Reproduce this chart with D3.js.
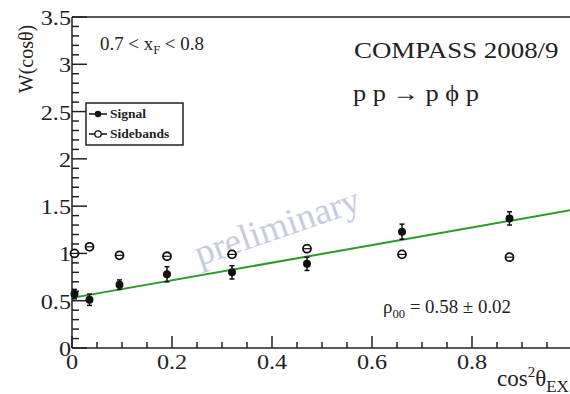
<!DOCTYPE html>
<html><head><meta charset="utf-8">
<script src="https://cdn.jsdelivr.net/npm/d3@7"></script>
<style>body{margin:0;background:#fff}svg{display:block}text{font-family:"Liberation Serif","DejaVu Serif",serif;fill:#222}</style>
</head><body><svg id="c" width="570" height="394"></svg>
<script>
const xVals = [0.005, 0.035, 0.095, 0.19, 0.32, 0.47, 0.66, 0.875];
const signalY = [0.57, 0.51, 0.67, 0.78, 0.80, 0.89, 1.23, 1.37];
const signalErr = [0.05, 0.06, 0.05, 0.08, 0.07, 0.07, 0.08, 0.07];
const sideY = [1.00, 1.07, 0.98, 0.97, 0.99, 1.05, 0.99, 0.96];
const sideErr = [0.03, 0.03, 0.03, 0.03, 0.03, 0.03, 0.03, 0.03];
const fitLine = [[0, 0.53], [1.0, 1.46]];
const yTicks = [0, 0.5, 1, 1.5, 2, 2.5, 3, 3.5];
const yTickLabels = ["0", "0.5", "1", "1.5", "2", "2.5", "3", "3.5"];
const xTicks = [0, 0.2, 0.4, 0.6, 0.8];
const xTickLabels = ["0", "0.2", "0.4", "0.6", "0.8"];

const svg = d3.select("#c");
const x = d3.scaleLinear().domain([0, 1]).range([72, 572]);
const y = d3.scaleLinear().domain([0, 3.5]).range([348, 17]);

function stext(px, py, f, size) {
  return svg.append("text").attr("transform", `translate(${px},${py}) scale(${f},1)`).attr("font-size", size);
}

// frame
svg.append("line").attr("x1", 72).attr("x2", 570).attr("y1", y(3.5)).attr("y2", y(3.5)).attr("stroke", "#222").attr("stroke-width", 1.5);
svg.append("line").attr("x1", 72).attr("x2", 72).attr("y1", y(0)).attr("y2", y(3.5)).attr("stroke", "#222").attr("stroke-width", 1.5);
svg.append("line").attr("x1", 72).attr("x2", 570).attr("y1", y(0)).attr("y2", y(0)).attr("stroke", "#222").attr("stroke-width", 1.5);

// y ticks
const yMinor = d3.range(0, 3.5001, 0.1);
svg.append("g").selectAll("line").data(yMinor).join("line")
  .attr("x1", 72).attr("x2", d => (Math.abs(d / 0.5 - Math.round(d / 0.5)) < 1e-6) ? 87 : 79)
  .attr("y1", d => y(d)).attr("y2", d => y(d)).attr("stroke", "#222").attr("stroke-width", 1.5);
yTicks.forEach((d, i) => {
  stext(71, y(d) + 8, 1.1, 22).attr("text-anchor", "end").text(yTickLabels[i]);
});

// x ticks
const xMinor = d3.range(0, 1.0001, 0.05);
svg.append("g").selectAll("line").data(xMinor).join("line")
  .attr("x1", d => x(d)).attr("x2", d => x(d))
  .attr("y1", y(0)).attr("y2", d => (Math.abs(d / 0.2 - Math.round(d / 0.2)) < 1e-6) ? y(0) - 12 : y(0) - 6)
  .attr("stroke", "#222").attr("stroke-width", 1.5);
xTicks.forEach((d, i) => {
  stext(x(d), 369, 1.1, 22).attr("text-anchor", "middle").text(xTickLabels[i]);
});

// axis titles
svg.append("text").attr("transform", "translate(33,59) rotate(-90)").attr("text-anchor", "middle").attr("font-size", 20).text("W(cosθ)");
const xt = svg.append("text").attr("x", 497).attr("y", 386).attr("font-size", 23);
xt.append("tspan").text("cos");
xt.append("tspan").attr("dy", -9).attr("font-size", 15).text("2");
xt.append("tspan").attr("dy", 9).text("θ");
xt.append("tspan").attr("dy", 6).attr("font-size", 17).text("EX");

// watermark
svg.append("text").attr("transform", "translate(281,238) rotate(-19)").attr("text-anchor", "middle")
  .attr("font-size", 37).style("fill", "#c6cddd").text("preliminary");

// fit line
svg.append("line").attr("x1", x(fitLine[0][0])).attr("y1", y(fitLine[0][1]))
  .attr("x2", x(fitLine[1][0])).attr("y2", y(fitLine[1][1]))
  .attr("stroke", "#2a9a2a").attr("stroke-width", 2);

// sidebands
const sb = svg.append("g");
xVals.forEach((xv, i) => {
  const cx = x(xv), cy = y(sideY[i]);
  sb.append("line").attr("x1", cx).attr("x2", cx).attr("y1", y(sideY[i] + sideErr[i])).attr("y2", y(sideY[i] - sideErr[i])).attr("stroke", "#111").attr("stroke-width", 1.5);
  sb.append("circle").attr("cx", cx).attr("cy", cy).attr("r", 4).attr("fill", "#fff").attr("stroke", "#111").attr("stroke-width", 1.8);
  sb.append("line").attr("x1", cx - 4).attr("x2", cx + 4).attr("y1", cy).attr("y2", cy).attr("stroke", "#111").attr("stroke-width", 1.2);
});
// signal
const sg = svg.append("g");
xVals.forEach((xv, i) => {
  const cx = x(xv), cy = y(signalY[i]);
  const t = y(signalY[i] + signalErr[i]), b = y(signalY[i] - signalErr[i]);
  sg.append("line").attr("x1", cx).attr("x2", cx).attr("y1", t).attr("y2", b).attr("stroke", "#111").attr("stroke-width", 1.5);
  sg.append("line").attr("x1", cx - 2.5).attr("x2", cx + 2.5).attr("y1", t).attr("y2", t).attr("stroke", "#111").attr("stroke-width", 1.5);
  sg.append("line").attr("x1", cx - 2.5).attr("x2", cx + 2.5).attr("y1", b).attr("y2", b).attr("stroke", "#111").attr("stroke-width", 1.5);
  sg.append("circle").attr("cx", cx).attr("cy", cy).attr("r", 4).attr("fill", "#111");
});

// legend
svg.append("rect").attr("x", 86).attr("y", 103).attr("width", 97).attr("height", 42).attr("fill", "#fff").attr("stroke", "#222").attr("stroke-width", 1.5);
svg.append("line").attr("x1", 89).attr("x2", 107).attr("y1", 114).attr("y2", 114).attr("stroke", "#111").attr("stroke-width", 1.5);
svg.append("circle").attr("cx", 98).attr("cy", 114).attr("r", 3.2).attr("fill", "#111");
svg.append("text").attr("x", 110).attr("y", 118).attr("font-size", 13.5).attr("font-weight", "bold").text("Signal");
svg.append("line").attr("x1", 89).attr("x2", 107).attr("y1", 134).attr("y2", 134).attr("stroke", "#111").attr("stroke-width", 1.5);
svg.append("circle").attr("cx", 98).attr("cy", 134).attr("r", 3.2).attr("fill", "#fff").attr("stroke", "#111").attr("stroke-width", 1.3);
svg.append("text").attr("x", 110).attr("y", 138).attr("font-size", 13.5).attr("font-weight", "bold").text("Sidebands");

// annotations
const ann = stext(100, 50, 1.05, 18);
ann.append("tspan").text("0.7 < x");
ann.append("tspan").attr("dy", 4).attr("font-size", 12).text("F");
ann.append("tspan").attr("dy", -4).text(" < 0.8");
stext(354, 58, 1.17, 23).text("COMPASS 2008/9");
stext(353, 101, 1.1, 24).text("p p → p ϕ p");
const rho = stext(383, 313, 1.05, 18);
rho.append("tspan").text("ρ");
rho.append("tspan").attr("dy", 5).attr("font-size", 12).text("00");
rho.append("tspan").attr("dy", -5).text(" = 0.58 ± 0.02");
</script></body></html>
